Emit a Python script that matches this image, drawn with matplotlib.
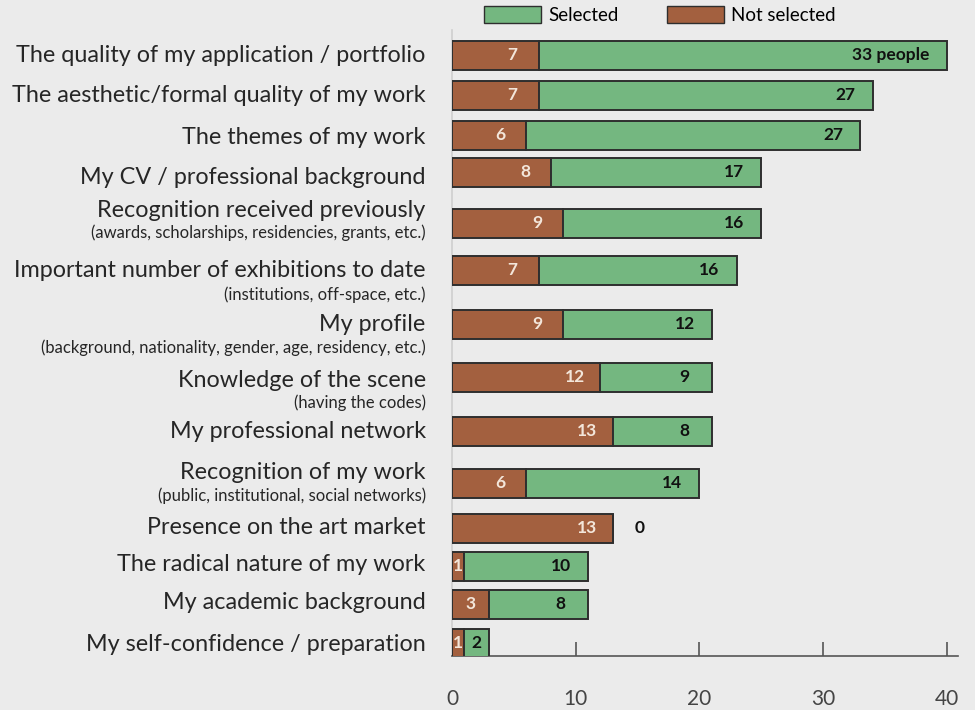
import matplotlib.pyplot as plt
from matplotlib.patches import Patch

# Reasons given by artists, selected vs not selected
reasons = [
    "The quality of my application / portfolio",
    "The aesthetic/formal quality of my work",
    "The themes of my work",
    "My CV / professional background",
    "Recognition received previously",
    "Important number of exhibitions to date",
    "My profile",
    "Knowledge of the scene",
    "My professional network",
    "Recognition of my work",
    "Presence on the art market",
    "The radical nature of my work",
    "My academic background",
    "My self-confidence / preparation",
]
details = [
    "", "", "", "",
    "(awards, scholarships, residencies, grants, etc.)",
    "(institutions, off-space, etc.)",
    "(background, nationality, gender, age, residency, etc.)",
    "(having the codes)",
    "",
    "(public, institutional, social networks)",
    "", "", "", "",
]
not_selected = [7, 7, 6, 8, 9, 7, 9, 12, 13, 6, 13, 1, 3, 1]
selected = [33, 27, 27, 17, 16, 16, 12, 9, 8, 14, 0, 10, 8, 2]

# vertical layout (rows with a sub-caption get extra room)
bar_y = [55, 95, 135, 172, 223, 270, 324, 377, 431, 483, 528, 566, 604, 643]
label_y = [55, 95, 137, 177, 210, 270, 324, 380, 431, 472, 527, 564, 602, 644]
detail_y = [None, None, None, None, 233, 295, 348, 403, None, 496, None, None, None, None]

brown = "#a3603f"
green = "#74b780"
edge = "#2e2e2e"
bg = "#ebebeb"

plt.rcParams["font.family"] = ["Lato", "DejaVu Sans"]

fig = plt.figure(figsize=(9.75, 7.1), dpi=100, facecolor=bg)
ax = fig.add_axes([452 / 975, 54 / 710, 506 / 975, 626 / 710], facecolor=bg)
ax.set_xlim(0, 40.9)
ax.set_ylim(656, 30)

h = 29
ax.barh(bar_y, not_selected, height=h, color=brown, edgecolor=edge, linewidth=1.4, zorder=3)
ax.barh(bar_y, selected, left=not_selected, height=h, color=green, edgecolor=edge,
        linewidth=1.4, zorder=3)

for i, (ns, s, y) in enumerate(zip(not_selected, selected, bar_y)):
    ax.text(max(ns - 2.1, ns / 2), y, str(ns), ha="center", va="center",
            color="#f3e6da", fontsize=12.5, fontweight="bold", zorder=4)
    total = ns + s
    if i == 0:
        ax.text(total - 1.4, y, f"{s} people", ha="right", va="center",
                color="#111111", fontsize=12.5, fontweight="bold", zorder=4)
    elif s == 0:
        ax.text(total + 2.2, y, "0", ha="center", va="center",
                color="#111111", fontsize=12.5, fontweight="bold", zorder=4)
    else:
        ax.text(max(total - 2.2, ns + s / 2), y, str(s), ha="center", va="center",
                color="#111111", fontsize=12.5, fontweight="bold", zorder=4)

# category labels on the left
tr = ax.get_yaxis_transform()
for name, ly, sub, sy in zip(reasons, label_y, details, detail_y):
    ax.text(-0.052, ly, name, transform=tr, ha="right", va="center",
            fontsize=16.8, color="#262626")
    if sub:
        ax.text(-0.052, sy, sub, transform=tr, ha="right", va="center",
                fontsize=12, color="#262626")

ax.set_yticks([])
ax.set_xticks([0, 10, 20, 30, 40])
ax.tick_params(axis="x", direction="in", length=10, width=1.2, color="#555555",
               labelsize=15, labelcolor="#444444", pad=24)
ax.xaxis.get_major_ticks()[0].tick1line.set_visible(False)
for side in ["top", "right"]:
    ax.spines[side].set_visible(False)
ax.spines["left"].set_color("#cfcfcf")
ax.spines["left"].set_linewidth(1.2)
ax.spines["bottom"].set_color("#555555")
ax.spines["bottom"].set_linewidth(1.2)

handles = [Patch(facecolor=green, edgecolor=edge, label="Selected"),
           Patch(facecolor=brown, edgecolor=edge, label="Not selected")]
fig.legend(handles=handles, loc="center", bbox_to_anchor=(660 / 975, 1 - 15 / 710),
           ncol=2, frameon=False, fontsize=13.5, handlelength=3.0, handleheight=1.0,
           columnspacing=2.6, handletextpad=0.4)

fig.savefig("out.png", dpi=100, facecolor=bg)
